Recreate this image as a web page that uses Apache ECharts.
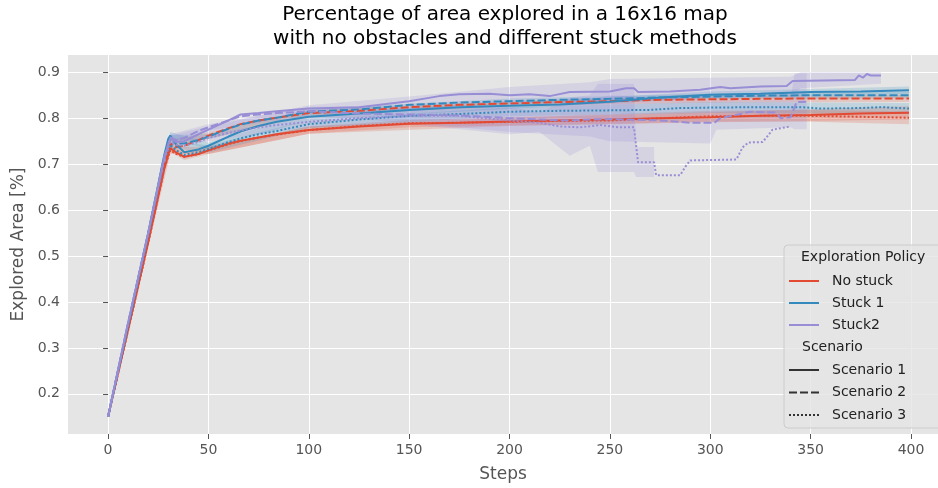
<!DOCTYPE html>
<html><head><meta charset="utf-8">
<script src="https://cdn.jsdelivr.net/npm/echarts@6/dist/echarts.min.js"></script>
<style>html,body{margin:0;padding:0;background:#fff}#c{width:938px;height:488px}</style>
</head><body><div id="c"></div>
<script>
// ---- tick labels ----
const xTicks = [0, 50, 100, 150, 200, 250, 300, 350, 400];
const yTicks = [0.2, 0.3, 0.4, 0.5, 0.6, 0.7, 0.8, 0.9];

// ---- legend categories ----
const policies = ['No stuck', 'Stuck 1', 'Stuck2'];
const scenarios = ['Scenario 1', 'Scenario 2', 'Scenario 3'];

// ---- mean lines: [step, explored fraction] ----
const noStuck1 = [[0,0.15],[10,0.34],[20,0.53],[28,0.69],[31,0.735],[34,0.725],[38,0.716],[45,0.722],[50,0.73],[60,0.745],[66,0.751],[75,0.758],[84,0.765],[100,0.774],[125,0.782],[150,0.788],[175,0.79],[200,0.793],[225,0.795],[250,0.797],[275,0.8],[300,0.802],[325,0.805],[350,0.807],[375,0.81],[399,0.812]];
const noStuck2 = [[0,0.15],[10,0.342],[20,0.535],[28,0.7],[31,0.745],[34,0.737],[38,0.74],[45,0.752],[50,0.762],[60,0.778],[66,0.787],[75,0.795],[84,0.801],[100,0.811],[125,0.816],[150,0.824],[175,0.829],[200,0.832],[225,0.835],[250,0.837],[275,0.84],[300,0.841],[325,0.842],[350,0.843],[375,0.843],[399,0.843]];
const noStuck3 = [[0,0.15],[10,0.338],[20,0.528],[28,0.69],[31,0.73],[34,0.722],[38,0.716],[45,0.722],[50,0.73],[60,0.743],[66,0.75],[75,0.758],[84,0.764],[100,0.774],[125,0.783],[150,0.789],[175,0.79],[200,0.792],[225,0.794],[250,0.795],[275,0.8],[300,0.804],[325,0.805],[350,0.805],[375,0.803],[399,0.801]];
const stuck1_1 = [[0,0.15],[10,0.352],[20,0.55],[28,0.72],[30,0.755],[31,0.762],[34,0.742],[38,0.726],[45,0.732],[50,0.74],[60,0.76],[66,0.771],[75,0.783],[84,0.792],[100,0.803],[125,0.81],[150,0.818],[175,0.824],[200,0.827],[225,0.83],[250,0.836],[275,0.845],[300,0.851],[325,0.853],[350,0.857],[375,0.858],[399,0.861]];
const stuck1_2 = [[0,0.15],[10,0.35],[20,0.548],[28,0.715],[31,0.757],[34,0.745],[38,0.745],[45,0.752],[50,0.76],[60,0.777],[66,0.786],[75,0.795],[84,0.801],[100,0.814],[125,0.819],[150,0.829],[175,0.834],[200,0.837],[225,0.84],[250,0.842],[275,0.845],[300,0.847],[325,0.849],[350,0.85],[375,0.85],[399,0.85]];
const stuck1_3 = [[0,0.15],[10,0.348],[20,0.545],[28,0.71],[31,0.742],[34,0.73],[38,0.72],[45,0.726],[50,0.733],[60,0.748],[66,0.756],[75,0.765],[84,0.772],[100,0.787],[125,0.797],[150,0.805],[175,0.809],[200,0.814],[225,0.816],[250,0.817],[270,0.818],[285,0.822],[300,0.823],[325,0.824],[345,0.824],[355,0.821],[375,0.822],[385,0.824],[399,0.821]];
const stuck2_1 = [[0,0.15],[10,0.355],[20,0.55],[28,0.715],[31,0.755],[34,0.748],[38,0.75],[45,0.765],[50,0.775],[60,0.795],[66,0.808],[75,0.811],[84,0.815],[100,0.821],[125,0.824],[150,0.837],[165,0.848],[175,0.852],[190,0.853],[200,0.85],[210,0.852],[220,0.848],[230,0.857],[250,0.858],[258,0.865],[262,0.865],[264,0.857],[280,0.858],[295,0.862],[305,0.868],[310,0.865],[325,0.869],[338,0.87],[341,0.881],[372,0.883],[374,0.893],[376,0.888],[378,0.896],[380,0.893],[385,0.893]];
const stuck2_2 = [[0,0.15],[10,0.355],[20,0.55],[28,0.715],[31,0.758],[34,0.752],[38,0.757],[45,0.772],[50,0.78],[60,0.795],[66,0.804],[75,0.808],[84,0.811],[100,0.815],[125,0.81],[150,0.808],[175,0.806],[200,0.8],[225,0.795],[250,0.798],[275,0.795],[290,0.79],[302,0.79],[305,0.8],[320,0.814],[333,0.812],[335,0.8],[340,0.802],[343,0.835],[348,0.836]];
const stuck2_3 = [[0,0.15],[10,0.352],[20,0.548],[28,0.71],[31,0.748],[34,0.742],[38,0.74],[45,0.748],[50,0.757],[60,0.768],[66,0.773],[75,0.78],[84,0.785],[100,0.792],[125,0.8],[150,0.805],[175,0.805],[200,0.795],[215,0.79],[225,0.782],[235,0.78],[245,0.785],[255,0.78],[262,0.78],[264,0.704],[272,0.704],[273,0.676],[285,0.676],[288,0.697],[290,0.708],[313,0.71],[316,0.736],[319,0.747],[326,0.748],[328,0.758],[331,0.775],[340,0.782]];

// ---- confidence bands: [step, low, high] ----
const noStuck1Band = [[0,0.15,0.15],[28,0.684,0.696],[31,0.727,0.743],[38,0.709,0.723],[50,0.722,0.738],[100,0.766,0.782],[150,0.78,0.796],[200,0.784,0.802],[250,0.787,0.807],[300,0.791,0.813],[350,0.794,0.82],[399,0.797,0.826]];
const noStuck2Band = [[0,0.15,0.15],[31,0.738,0.752],[50,0.755,0.769],[100,0.805,0.817],[200,0.826,0.838],[300,0.834,0.848],[399,0.835,0.851]];
const noStuck3Band = [[0,0.15,0.15],[31,0.722,0.738],[50,0.722,0.738],[100,0.766,0.782],[200,0.783,0.801],[300,0.792,0.816],[350,0.792,0.818],[399,0.787,0.815]];
const stuck1_1Band = [[0,0.15,0.15],[31,0.754,0.77],[50,0.733,0.747],[100,0.796,0.81],[200,0.82,0.834],[300,0.844,0.858],[399,0.853,0.869]];
const stuck1_2Band = [[0,0.15,0.15],[31,0.751,0.763],[50,0.754,0.766],[100,0.808,0.82],[200,0.831,0.843],[300,0.841,0.853],[399,0.843,0.857]];
const stuck1_3Band = [[0,0.15,0.15],[31,0.735,0.749],[50,0.725,0.741],[100,0.778,0.796],[200,0.804,0.824],[300,0.811,0.835],[399,0.809,0.833]];
const stuck2_1Band = [[0,0.15,0.15],[31,0.748,0.762],[50,0.768,0.782],[100,0.814,0.828],[150,0.827,0.847],[200,0.832,0.868],[240,0.836,0.878],[250,0.84,0.885],[340,0.845,0.89],[345,0.865,0.9],[385,0.875,0.9]];
const stuck2_2Band = [[0,0.15,0.15],[31,0.751,0.765],[50,0.773,0.787],[100,0.805,0.825],[150,0.79,0.826],[200,0.77,0.83],[240,0.76,0.84],[250,0.75,0.85],[300,0.745,0.84],[303,0.775,0.84],[340,0.78,0.84],[342,0.776,0.898],[348,0.776,0.898]];
const stuck2_3Band = [[0,0.15,0.15],[31,0.741,0.755],[50,0.749,0.765],[100,0.78,0.804],[150,0.787,0.823],[200,0.765,0.825],[215,0.77,0.812],[230,0.718,0.845],[240,0.74,0.85],[244,0.683,0.875],[262,0.683,0.875],[263,0.672,0.737],[272,0.672,0.737]];

// ---- styling ----
const colors = ['#E24A33', '#348ABD', '#988ED5'];
const bandColors = ['rgba(226,74,51,0.2)', 'rgba(52,138,189,0.2)', 'rgba(152,142,213,0.2)'];
const dashes = ['solid', [8, 3], [2, 2]];
const FONT = 'DejaVu Sans';

const groups = [
  [noStuck1, noStuck2, noStuck3],
  [stuck1_1, stuck1_2, stuck1_3],
  [stuck2_1, stuck2_2, stuck2_3]
];
const bands = [
  [noStuck1Band, noStuck2Band, noStuck3Band],
  [stuck1_1Band, stuck1_2Band, stuck1_3Band],
  [stuck2_1Band, stuck2_2Band, stuck2_3Band]
];

function bandSeries(band, color) {
  return {
    type: 'custom', silent: true, z: 1, animation: false,
    data: band,
    encode: { x: 0, y: [1, 2] },
    renderItem: function (params, api) {
      if (params.dataIndex !== 0) return null;
      const up = band.map(p => api.coord([p[0], p[2]]));
      const lo = band.map(p => api.coord([p[0], p[1]])).reverse();
      return { type: 'polygon', shape: { points: up.concat(lo) }, style: { fill: color } };
    }
  };
}

const series = [];
for (let g = 0; g < 3; g++) {
  for (let s = 0; s < 3; s++) series.push(bandSeries(bands[g][s], bandColors[g]));
}
for (let g = 0; g < 3; g++) {
  for (let s = 0; s < 3; s++) {
    series.push({
      type: 'line', name: policies[g] + ' / ' + scenarios[s], data: groups[g][s],
      showSymbol: false, symbol: 'none', z: 2, animation: false,
      lineStyle: { color: colors[g], width: 2, type: dashes[s] }
    });
  }
}
// legend-only entries
for (let g = 0; g < 3; g++) {
  series.push({ type: 'line', name: policies[g], data: [], symbol: 'none', color: colors[g],
    lineStyle: { color: colors[g], width: 2, type: 'solid' } });
}
for (let s = 0; s < 3; s++) {
  series.push({ type: 'line', name: scenarios[s], data: [], symbol: 'none', color: '#333333',
    lineStyle: { color: '#333333', width: 2, type: dashes[s] } });
}

const legendCommon = {
  orient: 'vertical', left: 788, padding: 0, itemWidth: 30, itemHeight: 16, itemGap: 8,
  selectedMode: false, z: 6,
  itemStyle: { opacity: 0 },
  textStyle: { fontSize: 14, color: '#222', fontFamily: FONT, padding: [0, 0, 0, 8] }
};

const option = {
  animation: false,
  grid: { left: 68, right: 0, top: 55, bottom: 52, show: true, backgroundColor: '#E5E5E5', borderWidth: 0 },
  xAxis: {
    type: 'value', min: -19.95, max: 413.43,
    axisLine: { show: false },
    axisTick: { show: true, length: 5, lineStyle: { color: '#555555' }, customValues: xTicks },
    axisLabel: { customValues: xTicks, color: '#555555', fontSize: 14, margin: 9, fontFamily: FONT },
    splitLine: { show: true, lineStyle: { color: '#ffffff', width: 1 } },
    name: 'Steps', nameLocation: 'middle', nameGap: 32,
    nameTextStyle: { fontSize: 17, color: '#555555', fontFamily: FONT }
  },
  yAxis: {
    type: 'value', min: 0.1125, max: 0.9375,
    axisLine: { show: false },
    axisTick: { show: true, length: 5, lineStyle: { color: '#555555' }, customValues: yTicks },
    axisLabel: { customValues: yTicks, color: '#555555', fontSize: 14, margin: 8, fontFamily: FONT,
      formatter: v => v.toFixed(1) },
    splitLine: { show: true, lineStyle: { color: '#ffffff', width: 1 } },
    name: 'Explored Area [%]', nameLocation: 'middle', nameGap: 41,
    nameTextStyle: { fontSize: 17, color: '#555555', fontFamily: FONT }
  },
  legend: [
    Object.assign({}, legendCommon, { data: policies, top: 274 }),
    Object.assign({}, legendCommon, { data: scenarios, top: 363, itemGap: 8.5 })
  ],
  graphic: [
    { type: 'text', x: 505, y: 15, z: 10, style: { text: 'Percentage of area explored in a 16x16 map', font: '20px "DejaVu Sans"', fill: '#000', textAlign: 'center', textVerticalAlign: 'middle' } },
    { type: 'text', x: 505, y: 39, z: 10, style: { text: 'with no obstacles and different stuck methods', font: '20px "DejaVu Sans"', fill: '#000', textAlign: 'center', textVerticalAlign: 'middle' } },
    { type: 'rect', z: 5, shape: { x: 784, y: 245, width: 170, height: 183, r: 4 }, style: { fill: 'rgba(229,229,229,0.8)', stroke: '#cccccc', lineWidth: 1 } },
    { type: 'text', x: 801, y: 257, z: 7, style: { text: 'Exploration Policy', font: '14px "DejaVu Sans"', fill: '#222', textVerticalAlign: 'middle' } },
    { type: 'text', x: 802, y: 347, z: 7, style: { text: 'Scenario', font: '14px "DejaVu Sans"', fill: '#222', textVerticalAlign: 'middle' } }
  ],
  series: series
};

const chart = echarts.init(document.getElementById('c'), null, { renderer: 'canvas' });
chart.setOption(option);
</script>
</body></html>
